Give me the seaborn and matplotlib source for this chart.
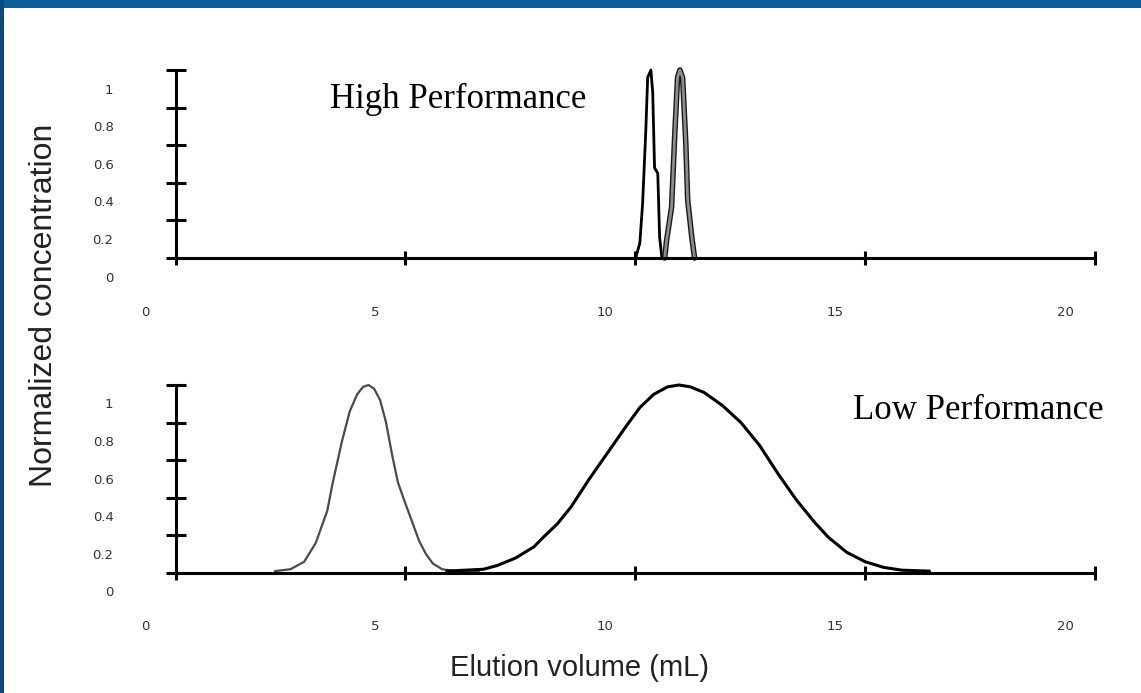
import numpy as np
import pandas as pd
import matplotlib
matplotlib.use("Agg")
import matplotlib.pyplot as plt
import matplotlib.patheffects as pe
from matplotlib.patches import Rectangle
from matplotlib.transforms import ScaledTranslation, blended_transform_factory
import seaborn as sns

# High performance column: two sharp peaks
hp_x_black = [10.01, 10.10, 10.16, 10.23, 10.27, 10.34, 10.38, 10.42, 10.49, 10.53, 10.58]
hp_y_black = [0.0, 0.08, 0.29, 0.68, 0.96, 1.0, 0.88, 0.48, 0.45, 0.11, 0.0]
hp_x_gray = [10.64, 10.68, 10.79, 10.86, 10.92, 10.97, 11.03, 11.10, 11.14, 11.23, 11.29]
hp_y_gray = [0.0, 0.09, 0.27, 0.66, 0.96, 1.0, 0.96, 0.61, 0.31, 0.11, 0.0]

# Low performance column: two broad peaks
lp_x_gray = [2.16, 2.5, 2.8, 3.05, 3.3, 3.42, 3.62, 3.79, 3.95, 4.08, 4.2, 4.32,
             4.45, 4.58, 4.71, 4.84, 5.0, 5.15, 5.3, 5.45, 5.6, 5.8, 6.1, 6.6]
lp_y_gray = [0.01, 0.02, 0.06, 0.16, 0.33, 0.48, 0.7, 0.86, 0.95, 0.99, 1.0, 0.98,
             0.92, 0.8, 0.63, 0.48, 0.37, 0.27, 0.17, 0.1, 0.05, 0.02, 0.01, 0.01]
lp_x_black = [5.9, 6.7, 7.0, 7.4, 7.8, 8.0, 8.3, 8.6, 9.0, 9.4, 9.8, 10.1, 10.4,
              10.7, 10.95, 11.2, 11.5, 11.9, 12.3, 12.7, 13.1, 13.5, 13.9, 14.2,
              14.6, 15.0, 15.4, 15.8, 16.4]
lp_y_black = [0.01, 0.02, 0.04, 0.08, 0.14, 0.19, 0.26, 0.35, 0.5, 0.64, 0.78, 0.88, 0.95,
              0.99, 1.0, 0.99, 0.96, 0.89, 0.8, 0.68, 0.53, 0.39, 0.27, 0.19,
              0.11, 0.06, 0.03, 0.015, 0.01]

x_ticks = [0, 5, 10, 15, 20]
x_tick_labels = ["0", "5", "10", "15", "20"]
y_ticks = [0, 0.2, 0.4, 0.6, 0.8, 1.0]
y_tick_labels = ["0", "0.2", "0.4", "0.6", "0.8", "1"]

sns.set_theme(style="white")
plt.rcParams["font.family"] = ["Liberation Sans", "DejaVu Sans"]

W, H = 1141, 693
fig = plt.figure(figsize=(W / 100, H / 100), dpi=100)
fig.patch.set_facecolor("white")

# slide frame
fig.patches.append(Rectangle((0, 1 - 8 / H), 1, 8 / H, transform=fig.transFigure,
                             facecolor="#0b5e9c", edgecolor="none", zorder=0))
fig.patches.append(Rectangle((0, 0), 4 / W, 1, transform=fig.transFigure,
                             facecolor="#094a80", edgecolor="none", zorder=0))


def px_axes(left, right, top, bottom):
    return fig.add_axes([left / W, 1 - bottom / H, (right - left) / W, (bottom - top) / H])


ax_top = px_axes(175.5, 1095, 70, 258)
ax_bot = px_axes(175.5, 1095, 385, 573)

df_hp_b = pd.DataFrame({"x": hp_x_black, "y": hp_y_black})
df_hp_g = pd.DataFrame({"x": hp_x_gray, "y": hp_y_gray})
df_lp_g = pd.DataFrame({"x": lp_x_gray, "y": lp_y_gray})
df_lp_b = pd.DataFrame({"x": lp_x_black, "y": lp_y_black})

sns.lineplot(data=df_hp_b, x="x", y="y", ax=ax_top, color="black", lw=2.0,
             sort=False, estimator=None)
sns.lineplot(data=df_hp_g, x="x", y="y", ax=ax_top, color="#8c8c8c", lw=2.0,
             sort=False, estimator=None,
             path_effects=[pe.Stroke(linewidth=4, foreground="#1a1a1a"), pe.Normal()])
sns.lineplot(data=df_lp_g, x="x", y="y", ax=ax_bot, color="#4a4a4a", lw=1.6,
             sort=False, estimator=None)
sns.lineplot(data=df_lp_b, x="x", y="y", ax=ax_bot, color="black", lw=2.2,
             sort=False, estimator=None)

tick_font = {"family": "DejaVu Sans", "size": 9.5, "color": "#333333"}
for ax in (ax_top, ax_bot):
    ax.set_xlim(0, 20)
    ax.set_ylim(0, 1)
    ax.set_facecolor("none")
    for ln in ax.get_lines():
        ln.set_clip_on(False)
        ln.set_solid_joinstyle("round")
    for s in ("top", "right"):
        ax.spines[s].set_visible(False)
    for s in ("left", "bottom"):
        ax.spines[s].set_linewidth(2.2)
        ax.spines[s].set_color("black")
    ax.set_xticks(x_ticks)
    ax.set_yticks(y_ticks)
    ax.tick_params(axis="x", direction="inout", length=10, width=2.2, color="black",
                   labelbottom=False, bottom=True)
    ax.tick_params(axis="y", direction="inout", length=15, width=2.2, color="black",
                   labelleft=False, left=True)
    ax.set_xlabel("")
    ax.set_ylabel("")
    # offset tick labels, as in the source chart
    tx = blended_transform_factory(ax.transData, ax.transAxes) + \
        ScaledTranslation(-0.30, -0.54, fig.dpi_scale_trans)
    for t, lab in zip(x_ticks, x_tick_labels):
        ax.text(t, 0, lab, transform=tx, ha="center", va="center", **tick_font)
    ty = blended_transform_factory(ax.transAxes, ax.transData) + \
        ScaledTranslation(-0.62, -0.20, fig.dpi_scale_trans)
    for t, lab in zip(y_ticks, y_tick_labels):
        ax.text(0, t, lab, transform=ty, ha="right", va="center", **tick_font)

ax_top.text(0.307, 0.798, "High Performance", transform=ax_top.transAxes,
            ha="center", va="baseline", family="Liberation Serif", size=25, color="black")
ax_bot.text(0.873, 0.819, "Low Performance", transform=ax_bot.transAxes,
            ha="center", va="baseline", family="Liberation Serif", size=25, color="black")

fig.text(580 / W, 1 - 668 / H, "Elution volume (mL)", ha="center", va="center",
         size=21, color="#222222")
fig.text(44 / W, 1 - 305 / H, "Normalized concentration", ha="center", va="center",
         rotation=90, size=23, color="#222222")

fig.savefig("out.png", dpi=100)
